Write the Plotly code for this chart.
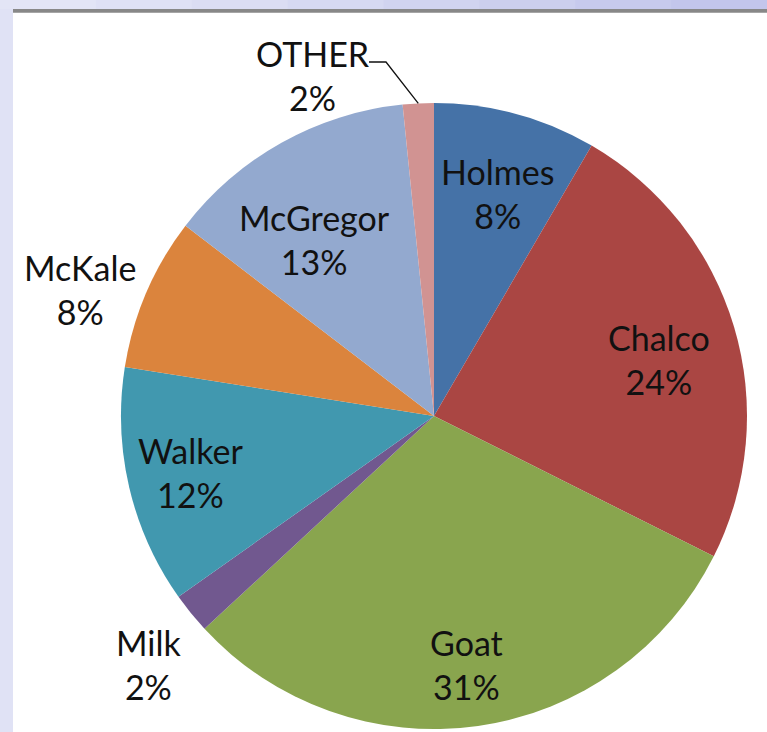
import math
import plotly.graph_objects as go

# ---- data ----
labels = ["Holmes", "Chalco", "Goat", "Milk", "Walker", "McKale", "McGregor", "OTHER"]
values = [8.4, 24.0, 30.7, 2.1, 12.3, 7.9, 13.0, 1.6]
colors = ["#4572A7", "#AA4643", "#89A54E", "#71588F", "#4198AF", "#DB843D", "#93A9CF", "#D19392"]

# ---- layout / style ----
W, H = 767, 732
CX, CY, R = 434, 416, 313          # pie centre and radius in pixels
FONT = "Lato, Calibri, sans-serif"
FS = 34
label_radius = {"Holmes": 0.74, "Chalco": 0.74, "Goat": 0.80, "Milk": 1.21,
                "Walker": 0.80, "McKale": 1.20, "McGregor": 0.68}
label_angle_shift = {"Holmes": 0.7, "Chalco": 2.4, "Goat": 0.6, "Milk": -2.0,
                     "Walker": 0.1, "McKale": -3.6, "McGregor": -5.0}


def px2paper(x, y):
    return x / W, 1 - y / H


fig = go.Figure()
fig.add_trace(go.Pie(
    labels=labels, values=values, sort=False, direction="clockwise", rotation=0,
    marker=dict(colors=colors, line=dict(width=0)),
    textinfo="none", hoverinfo="label+percent", showlegend=False,
    domain=dict(x=[(CX - R) / W, (CX + R) / W], y=[1 - (CY + R) / H, 1 - (CY - R) / H]),
))

total = sum(values)
annotations = []
shapes = []
cum = 0.0
for lab, v in zip(labels, values):
    mid = (cum + v / 2) / total * 360
    cum += v
    pct = f"{round(v / total * 100)}%"
    if lab in label_radius:
        a = math.radians(mid + label_angle_shift[lab])
        rr = R * label_radius[lab]
        x, y = CX + rr * math.sin(a), CY - rr * math.cos(a)
        px, py = px2paper(x, y)
        annotations.append(dict(x=px, y=py, xref="paper", yref="paper", text=f"{lab}<br>{pct}",
                                showarrow=False, xanchor="center", yanchor="middle",
                                font=dict(family=FONT, size=FS, color="#111111")))
    else:
        # leader-line label (OTHER)
        a = math.radians(mid)
        ex, ey = CX + R * math.sin(a), CY - R * math.cos(a)
        tx, ty = 313, 75
        p1 = px2paper(ex, ey)
        p2 = px2paper(386, 62)
        p3 = px2paper(369, 62)
        shapes.append(dict(type="path", xref="paper", yref="paper",
                           path=f"M {p1[0]} {p1[1]} L {p2[0]} {p2[1]} L {p3[0]} {p3[1]}",
                           line=dict(color="#111111", width=1.3)))
        qx, qy = px2paper(tx, ty)
        annotations.append(dict(x=qx, y=qy, xref="paper", yref="paper", text=f"{lab}<br>{pct}",
                                showarrow=False, xanchor="center", yanchor="middle",
                                font=dict(family=FONT, size=FS, color="#111111")))

# background: lavender frame with gradient top strip, white chart panel, grey top rule
bg = []
top_cols = ["#e3e5f6", "#dfe1f5", "#dbddf3", "#d6d9f2", "#d1d4f0", "#cccfee", "#c7caed", "#c3c6ec"]
n = len(top_cols)
for i, c in enumerate(top_cols):
    bg.append(dict(type="rect", xref="paper", yref="paper", layer="below",
                   x0=i / n, x1=(i + 1) / n + 0.001, y0=1 - 9.5 / H, y1=1,
                   fillcolor=c, line=dict(width=0)))
bg.append(dict(type="rect", xref="paper", yref="paper", layer="below",
               x0=0, x1=13 / W, y0=0, y1=1 - 9.5 / H, fillcolor="#e0e2f5", line=dict(width=0)))
bg.append(dict(type="rect", xref="paper", yref="paper", layer="below",
               x0=13 / W, x1=1, y0=0, y1=1 - 9 / H, fillcolor="#ffffff", line=dict(width=0)))
bg.append(dict(type="rect", xref="paper", yref="paper", layer="below",
               x0=13 / W, x1=1, y0=1 - 12.7 / H, y1=1 - 9 / H, fillcolor="#888888", line=dict(width=0)))

fig.update_layout(
    width=W, height=H, margin=dict(l=0, r=0, t=0, b=0),
    paper_bgcolor="#dcdef4", plot_bgcolor="#ffffff",
    shapes=bg + shapes, annotations=annotations,
    font=dict(family=FONT),
)

fig.write_html("out.html", config={"displayModeBar": False},
               post_script="document.body.style.margin='0';document.body.style.overflow='hidden';")
